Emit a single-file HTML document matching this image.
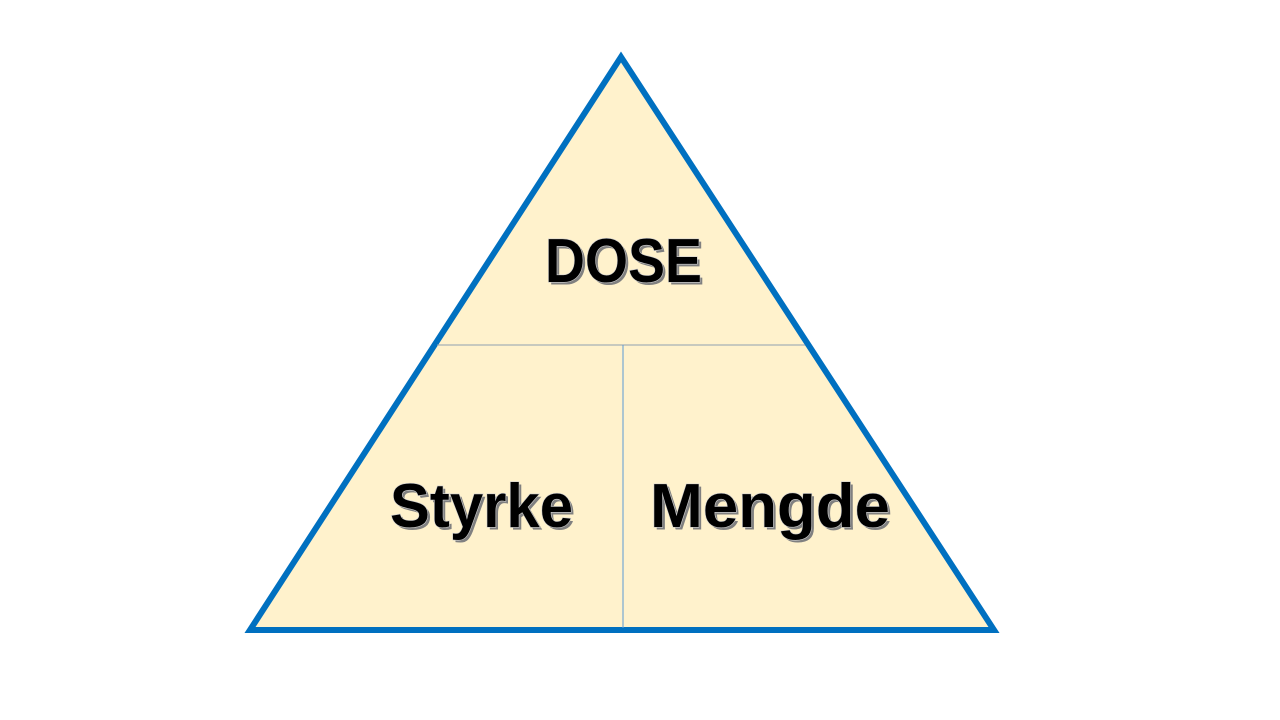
<!DOCTYPE html>
<html><head><style>html,body{margin:0;padding:0;background:#fff;}svg{display:block}</style></head>
<body>
<svg width="1280" height="720" viewBox="0 0 1280 720" xmlns="http://www.w3.org/2000/svg">
<polygon points="621,57 250,630 994,630" fill="#FFF2CC" stroke="#0070C0" stroke-width="6" stroke-linejoin="miter"/>
<line x1="437" y1="345" x2="805" y2="345" stroke="#8FA0B0" stroke-width="1"/>
<line x1="623" y1="345" x2="623" y2="628" stroke="#5B9BD5" stroke-width="1"/>
<g font-family="Liberation Sans, sans-serif" font-weight="bold" font-size="62">
<g fill="#808080" transform="translate(2.5,2.5)">
<text x="545" y="282" textLength="157" lengthAdjust="spacingAndGlyphs">DOSE</text>
<text x="390" y="527" textLength="183" lengthAdjust="spacingAndGlyphs">Styrke</text>
<text x="650" y="527" textLength="240" lengthAdjust="spacingAndGlyphs">Mengde</text>
</g>
<g fill="#000" stroke="#d0d0d0" stroke-width="1.2" paint-order="stroke">
<text x="545" y="282" textLength="157" lengthAdjust="spacingAndGlyphs">DOSE</text>
<text x="390" y="527" textLength="183" lengthAdjust="spacingAndGlyphs">Styrke</text>
<text x="650" y="527" textLength="240" lengthAdjust="spacingAndGlyphs">Mengde</text>
</g>
</g>
</svg>
</body></html>
